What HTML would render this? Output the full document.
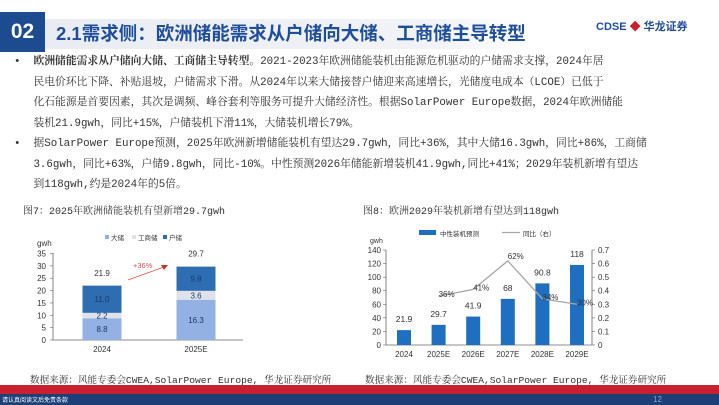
<!DOCTYPE html>
<html><head><meta charset="utf-8"><style>
body{margin:0;width:719px;height:405px;overflow:hidden;background:#fff;position:relative;font-family:"Liberation Sans","Noto Sans CJK SC",sans-serif}
.a{position:absolute;white-space:nowrap}
.body{font-family:"Liberation Mono","Noto Serif CJK SC",serif;font-size:10.8px;color:#333;}
</style></head><body>
<div class="a" style="left:0;top:12px;width:45px;height:40px;background:#1d4b8f;color:#fff;font-weight:bold;font-size:21px;line-height:40px;text-align:center">02</div>
<div class="a" style="left:45px;top:19px;width:490px;height:30px;background:linear-gradient(90deg,#e9ecf2,#f1f3f7 80%,#fff)"></div>
<div class="a" style="left:56px;top:19px;font-size:18.5px;font-weight:bold;color:#1f4e9c;line-height:30px">2.1需求侧：欧洲储能需求从户储向大储、工商储主导转型</div>
<div class="a" style="left:596px;top:18px;font-size:11px;font-weight:bold;color:#1f4e9c">CDSE <span style="color:#c8202f">◆</span> 华龙证券</div>
<div class="a body" style="left:14px;top:52px;line-height:20.5px">
•&nbsp;&nbsp;<b>欧洲储能需求从户储向大储、工商储主导转型。</b>2021-2023年欧洲储能装机由能源危机驱动的户储需求支撑，2024年居<br>
&nbsp;&nbsp;&nbsp;民电价环比下降、补贴退坡，户储需求下滑。从2024年以来大储接替户储迎来高速增长，光储度电成本（LCOE）已低于<br>
&nbsp;&nbsp;&nbsp;化石能源是首要因素，其次是调频、峰谷套利等服务可提升大储经济性。根据SolarPower Europe数据，2024年欧洲储能<br>
&nbsp;&nbsp;&nbsp;装机21.9gwh，同比+15%，户储装机下滑11%，大储装机增长79%。<br>
•&nbsp;&nbsp;据SolarPower Europe预测，2025年欧洲新增储能装机有望达29.7gwh，同比+36%，其中大储16.3gwh，同比+86%，工商储<br>
&nbsp;&nbsp;&nbsp;3.6gwh，同比+63%，户储9.8gwh，同比-10%。中性预测2026年储能新增装机41.9gwh,同比+41%；2029年装机新增有望达<br>
&nbsp;&nbsp;&nbsp;到118gwh,约是2024年的5倍。</div>
<div class="a body" style="left:23px;top:202px;font-size:10px">图7：2025年欧洲储能装机有望新增29.7gwh</div>
<div class="a body" style="left:363px;top:202px;font-size:10px">图8：欧洲2029年装机新增有望达到118gwh</div>
<svg class="a" style="left:0;top:0" width="719" height="405" id="charts"></svg>
<div class="a body" style="left:30px;top:372px;font-size:9.6px">数据来源：风能专委会CWEA,SolarPower Europe, 华龙证券研究所</div>
<div class="a body" style="left:365px;top:372px;font-size:9.6px">数据来源：风能专委会CWEA,SolarPower Europe, 华龙证券研究所</div>
<div class="a" style="left:0;top:385px;width:719px;height:9px;background:#c8202f"></div>
<div class="a" style="left:0;top:394px;width:719px;height:11px;background:#1d3f78"></div>
<div class="a" style="left:2px;top:395px;font-size:6px;color:#fff">请认真阅读文后免责条款</div>
<div class="a" style="left:653px;top:395px;font-size:8px;color:#8fa3c4">12</div>
<script>
const NS='http://www.w3.org/2000/svg';
const svg=document.getElementById('charts');
function mk(t,a,p){const e=document.createElementNS(NS,t);for(const k in a)e.setAttribute(k,a[k]);(p||svg).appendChild(e);return e;}
function tx(x,y,s,a){const e=mk('text',Object.assign({x:x,y:y,'font-size':8,fill:'#333','font-family':'Liberation Sans, Noto Sans CJK SC, sans-serif'},a||{}));e.textContent=s;return e;}

// Chart 1 data
const c1Cats=['2024','2025E'];
const c1Large=[8.8,16.3];
const c1CI=[2.2,3.6];
const c1Home=[11.0,9.8];
const c1Totals=[21.9,29.7];
const c1Ticks=[0,5,10,15,20,25,30,35];

// Chart 2 data
const c2Cats=['2024','2025E','2026E','2027E','2028E','2029E'];
const c2Vals=[21.9,29.7,41.9,68,90.8,118];
const c2Yoy=[null,0.36,0.41,0.62,0.34,0.30];
const c2LeftTicks=[0,20,40,60,80,100,120,140];
const c2RightTicks=[0,0.1,0.2,0.3,0.4,0.5,0.6,0.7];

// chart 1
const y1=v=>340-v*(86.5/35);
const x1=i=>102+i*94;
const bw1=39;
mk('line',{x1:53,y1:253,x2:53,y2:340,stroke:'#666','stroke-width':0.8});
mk('line',{x1:53,y1:340,x2:243,y2:340,stroke:'#666','stroke-width':0.8});
c1Ticks.forEach(t=>{mk('line',{x1:50,y1:y1(t),x2:53,y2:y1(t),stroke:'#666','stroke-width':0.6});
 const e=tx(46,y1(t)+3,String(t),{'text-anchor':'end'});});
tx(37,246,'gwh');
c1Cats.forEach((c,i)=>{
 let b=0;
 [[c1Large,'#93b1e3'],[c1CI,'#dfe2ea'],[c1Home,'#2f6db3']].forEach(([arr,col])=>{
  const v=arr[i];
  const r=mk('rect',{x:x1(i)-bw1/2,y:y1(b+v),width:bw1,height:y1(b)-y1(b+v),fill:col});
  
  tx(x1(i),(y1(b)+y1(b+v))/2+3,v.toFixed(1),{'text-anchor':'middle',fill:'#1a3a6b'});
  b+=v;});
 tx(x1(i),y1(c1Totals[i])-10,String(c1Totals[i]),{'text-anchor':'middle'});
 tx(x1(i),352,c,{'text-anchor':'middle'});
});
mk('line',{x1:128,y1:280,x2:164,y2:267,stroke:'#d9534f','stroke-width':0.8});
mk('path',{d:'M168,265 L161,265 L164,270 Z',fill:'#c0392b'});
tx(133,268,'+36%',{fill:'#d9534f','font-size':7.5});
[['大储','#93b1e3',105],['工商储','#dfe2ea',132],['户储','#2f6db3',163]].forEach(([s,c,x])=>{
 mk('rect',{x:x,y:235,width:4,height:4,fill:c});tx(x+6,240,s,{'font-size':6.5});});

// chart 2
const y2=v=>345-v*(95/140);
const y2r=v=>345-v*(95/0.7);
const x2=i=>404+i*34.6;
const bw2=14;
mk('line',{x1:386,y1:250,x2:386,y2:345,stroke:'#666','stroke-width':0.8});
mk('line',{x1:592,y1:250,x2:592,y2:345,stroke:'#666','stroke-width':0.8});
mk('line',{x1:386,y1:345,x2:592,y2:345,stroke:'#666','stroke-width':0.8});
c2LeftTicks.forEach(t=>{mk('line',{x1:383,y1:y2(t),x2:386,y2:y2(t),stroke:'#666','stroke-width':0.6});tx(381,y2(t)+3,String(t),{'text-anchor':'end'});});
c2RightTicks.forEach(t=>{mk('line',{x1:592,y1:y2r(t),x2:595,y2:y2r(t),stroke:'#666','stroke-width':0.6});tx(598,y2r(t)+3,t===0?'0':t.toFixed(1));});
tx(370,243,'gwh',{'font-size':7});
c2Cats.forEach((c,i)=>{
 const r=mk('rect',{x:x2(i)-bw2/2,y:y2(c2Vals[i]),width:bw2,height:345-y2(c2Vals[i]),fill:'#1f6fc0'});
 
 tx(x2(i),y2(c2Vals[i])-8,String(c2Vals[i]),{'text-anchor':'middle','font-size':8.5});
 tx(x2(i),357,c,{'text-anchor':'middle'});
});
let pts=[];c2Yoy.forEach((v,i)=>{if(v!==null)pts.push(x2(i)+','+y2r(v));});
const pl=mk('polyline',{points:pts.join(' '),fill:'none',stroke:'#a6a6a6','stroke-width':1.3});

c2Yoy.forEach((v,i)=>{if(v!==null)tx(x2(i)+8,y2r(v)-(v>0.5?2:-1),Math.round(v*100)+'%',{'text-anchor':'middle'});});
mk('rect',{x:419,y:230,width:17,height:5,fill:'#1f6fc0'});tx(440,236,'中性装机预测',{'font-size':6.5});
mk('line',{x1:502,y1:232.5,x2:520,y2:232.5,stroke:'#a6a6a6','stroke-width':1.3});tx(523,236,'同比（右）',{'font-size':6.5});
</script>
</body></html>
